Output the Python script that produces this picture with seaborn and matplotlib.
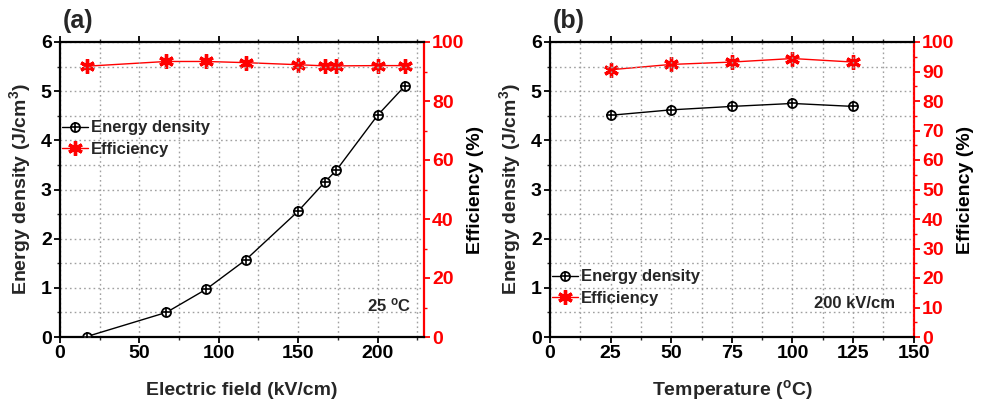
import numpy as np
import pandas as pd
import seaborn as sns
import matplotlib
matplotlib.use("Agg")
import matplotlib.pyplot as plt
from matplotlib.lines import Line2D
from matplotlib.ticker import MultipleLocator

# ---- data ----
field_kv = [17, 67, 92, 117, 150, 167, 174, 200, 217]
energy_a = [0.01, 0.50, 0.97, 1.57, 2.56, 3.16, 3.39, 4.51, 5.10]
eff_a = [91.8, 93.4, 93.4, 93.0, 92.3, 91.9, 91.9, 92.0, 92.0]

temp_c = [25, 50, 75, 100, 125]
energy_b = [4.51, 4.62, 4.69, 4.75, 4.69]
eff_b = [90.6, 92.4, 93.2, 94.4, 93.2]

sns.set_theme(style="white")
plt.rcParams['font.family'] = ['Liberation Sans', 'DejaVu Sans']
plt.rcParams['font.weight'] = 'bold'
plt.rcParams['axes.labelweight'] = 'bold'
plt.rcParams['mathtext.fontset'] = 'custom'
plt.rcParams['mathtext.rm'] = 'Liberation Sans:bold'
plt.rcParams['mathtext.bf'] = 'Liberation Sans:bold'
plt.rcParams['mathtext.default'] = 'bf'

RED = '#ff0000'
STAR = (6, 2, 0)
MS_C = 6.5
MS_S = 10.5
MEW_S = 2.4

fig = plt.figure(figsize=(9.83, 4.0), dpi=100)
ax_a = fig.add_axes([0.061, 0.1575, 0.370, 0.7375])
ax_b = fig.add_axes([0.5595, 0.1575, 0.370, 0.7375])


def draw(ax, x, e, eff, xlim, xmaj, xmin, rmaj, rmin, leg_y, note, note_xy, xlabel, panel, px):
    df = pd.DataFrame({'x': x, 'e': e, 'eff': eff})
    ax2 = ax.twinx()
    ax.set_zorder(ax2.get_zorder() + 1)
    ax.patch.set_visible(False)

    sns.lineplot(data=df, x='x', y='e', ax=ax, color='black', linewidth=1.0,
                 marker='o', markersize=MS_C, markerfacecolor='white',
                 markeredgecolor='black', markeredgewidth=1.3, zorder=3)
    sns.scatterplot(data=df, x='x', y='e', ax=ax, color='black', marker='+',
                    s=MS_C ** 2, linewidth=1.2, zorder=4, legend=False)
    sns.lineplot(data=df, x='x', y='eff', ax=ax2, color=RED, linewidth=1.0,
                 marker=STAR, markersize=MS_S, markerfacecolor=RED,
                 markeredgecolor=RED, markeredgewidth=MEW_S, zorder=3)

    ax.set_xlim(*xlim)
    ax.set_ylim(0, 6)
    ax2.set_ylim(0, 100)
    ax.xaxis.set_major_locator(MultipleLocator(xmaj))
    ax.xaxis.set_minor_locator(MultipleLocator(xmin))
    ax.yaxis.set_major_locator(MultipleLocator(1))
    ax.yaxis.set_minor_locator(MultipleLocator(0.5))
    ax2.yaxis.set_major_locator(MultipleLocator(rmaj))
    ax2.yaxis.set_minor_locator(MultipleLocator(rmin))

    ax.grid(True, which='both', axis='both', color='#a0a0a0',
            linestyle=(0, (1.2, 2.2)), linewidth=1.0, zorder=0.5)

    for s in ['left', 'bottom', 'top']:
        ax.spines[s].set_color('black')
        ax.spines[s].set_linewidth(1.6)
    ax.spines['right'].set_visible(False)
    for s in ['left', 'bottom', 'top']:
        ax2.spines[s].set_visible(False)
    ax2.spines['right'].set_color(RED)
    ax2.spines['right'].set_linewidth(1.6)

    ax.tick_params(axis='both', which='major', direction='out', length=4, width=1.3,
                   labelsize=14, colors='black', bottom=True, left=True, pad=2)
    ax.tick_params(axis='both', which='minor', direction='out', length=2.5, width=1.0,
                   bottom=True, left=True)
    ax.tick_params(axis='x', which='both', top=True)
    ax2.tick_params(axis='y', which='major', direction='out', length=4, width=1.3,
                    labelsize=14, colors=RED, pad=2)
    ax2.tick_params(axis='y', which='minor', direction='out', length=2.5, width=1.0,
                    colors=RED)
    for lab in ax.get_xticklabels() + ax.get_yticklabels() + ax2.get_yticklabels():
        lab.set_fontweight('bold')

    ax.set_xlabel(xlabel, fontsize=14, fontweight='bold')
    ax.set_ylabel('Energy density (J/cm$^{3}$)', fontsize=14, fontweight='bold')
    ax2.set_ylabel('Efficiency (%)', fontsize=14, fontweight='bold', color='black')
    ax.xaxis.label.set_va('baseline')
    ax.xaxis.set_label_coords(0.5, -0.195)
    ax.yaxis.set_label_coords(-0.075, 0.5)
    ax2.yaxis.set_label_coords(1.12, 0.5)

    h1 = (Line2D([], [], color='black', lw=1.0, marker='o', markersize=MS_C,
                 markerfacecolor='white', markeredgecolor='black', markeredgewidth=1.3),
          Line2D([], [], color='black', lw=0, marker='+', markersize=MS_C,
                 markeredgewidth=1.2))
    h2 = Line2D([], [], color=RED, lw=1.0, marker=STAR, markersize=MS_S,
                markerfacecolor=RED, markeredgecolor=RED, markeredgewidth=MEW_S)
    ax.legend([h1, h2], ['Energy density', 'Efficiency'], loc='upper left',
              bbox_to_anchor=(0.0, leg_y), frameon=False, borderaxespad=0,
              borderpad=0.1, handlelength=1.6, handletextpad=0.15,
              labelspacing=0.4, prop={'weight': 'bold', 'size': 12})
    ax.text(note_xy[0], note_xy[1], note, transform=ax.transAxes, ha='right',
            va='center', fontsize=12, fontweight='bold')
    fig.text(px, 0.9475, panel, fontsize=18, fontweight='bold', ha='left', va='center')
    return ax2


draw(ax_a, field_kv, energy_a, eff_a, (0, 229), 50, 25, 20, 10, 0.74,
     '25 $^{o}$C', (0.967, 0.108), 'Electric field (kV/cm)', '(a)', 0.064)
draw(ax_b, temp_c, energy_b, eff_b, (0, 150), 25, 12.5, 10, 5, 0.235,
     '200 kV/cm', (0.948, 0.115), 'Temperature ($^{o}$C)', '(b)', 0.5626)

fig.savefig('out.png', dpi=100, facecolor='white')
